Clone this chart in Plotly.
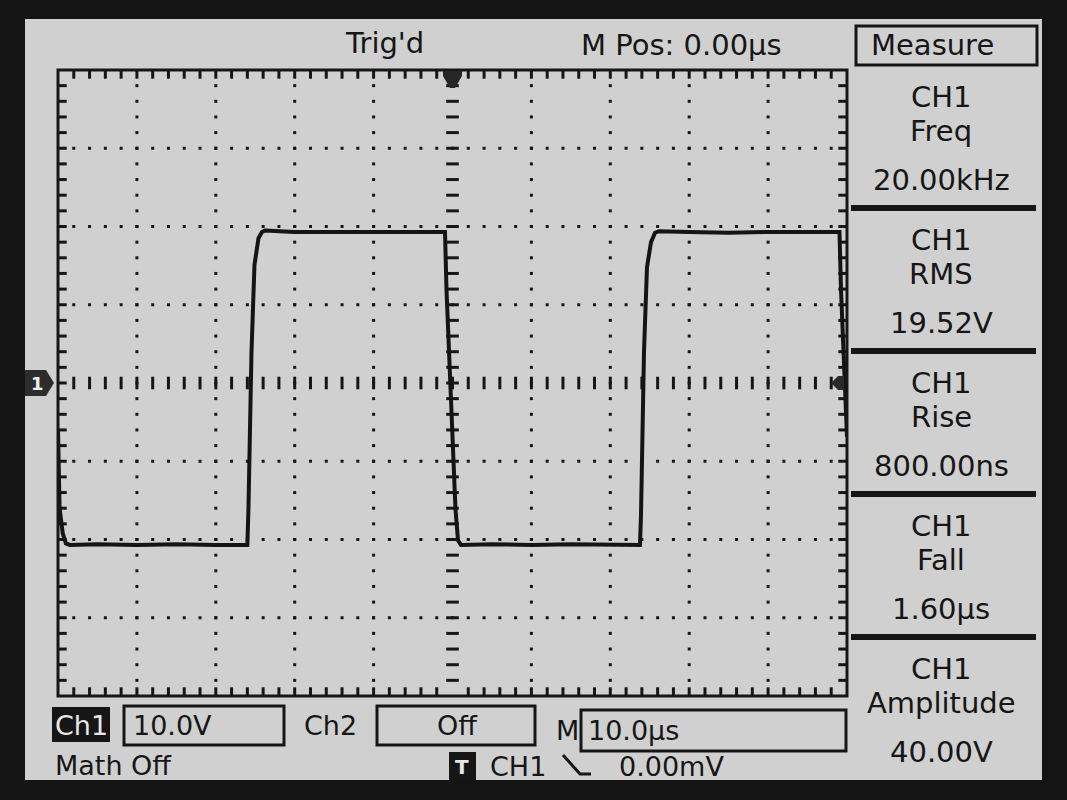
import plotly.graph_objects as go

# ---------------- data ----------------
# CH1 trace: time in microseconds, voltage in volts
time_us = [-50.0, -49.8, -49.4, -49.0, -48.5, -45.0, -40.0, -35.0, -30.0, -26.0,
           -25.86, -25.48, -25.10, -24.59, -24.15, -23.76, -20.0, -15.0, -10.0, -5.0,
           -0.95, -0.76, -0.38, 0.0, 0.38, 0.70, 1.08, 5.0, 10.0, 15.0,
           20.0, 23.76, 23.89, 24.27, 24.65, 25.16, 25.67, 26.17, 30.0, 35.0,
           40.0, 45.0, 49.05, 49.24, 49.62, 50.0]
ch1_volts = [-6.0, -16.0, -19.2, -20.5, -20.7, -20.6, -20.7, -20.6, -20.7, -20.7,
             -16.0, 3.8, 15.1, 18.5, 19.3, 19.5, 19.3, 19.3, 19.2, 19.3,
             19.3, 11.9, 2.0, -6.9, -16.2, -20.1, -20.7, -20.6, -20.7, -20.6,
             -20.7, -20.7, -16.9, 4.0, 14.8, 18.0, 19.2, 19.4, 19.3, 19.2,
             19.3, 19.3, 19.3, 11.9, 2.0, -6.9]

h_divs = 10
v_divs = 8
time_per_div = 10.0      # µs / div
volts_per_div = 10.0     # V / div
minor_per_div = 5

status_text = "Trig'd"
mpos_text = "M Pos: 0.00µs"
menu_title = "Measure"
measure_sources = ["CH1", "CH1", "CH1", "CH1", "CH1"]
measure_names = ["Freq", "RMS", "Rise", "Fall", "Amplitude"]
measure_values = ["20.00kHz", "19.52V", "800.00ns", "1.60µs", "40.00V"]
ch1_label, ch1_scale = "Ch1", "10.0V"
ch2_label, ch2_state = "Ch2", "Off"
time_label, time_scale = "M", "10.0µs"
math_state = "Math Off"
trig_source, trig_level = "CH1", "0.00mV"

# ---------------- geometry ----------------
W, H = 1067, 800
L, R, T, B = 58, 847, 70, 696
INK = "#161616"
SCREEN = "#d0d0d0"
FONT = "DejaVu Sans"


def fx(px):
    return (px - L) / (R - L)


def fy(py):
    return (B - py) / (B - T)


def path(points, close=True):
    s = "M " + " L ".join(f"{fx(x):.5f},{fy(y):.5f}" for x, y in points)
    return s + (" Z" if close else "")


x_half = h_divs * time_per_div / 2
y_half = v_divs * volts_per_div / 2
minor_t = time_per_div / minor_per_div
minor_v = volts_per_div / minor_per_div
n_t = int(round(2 * x_half / minor_t))
n_v = int(round(2 * y_half / minor_v))
t_minor = [-x_half + i * minor_t for i in range(1, n_t)]
v_minor = [-y_half + i * minor_v for i in range(1, n_v)]
t_major = [-x_half + i * time_per_div for i in range(1, h_divs) if abs(-x_half + i * time_per_div) > 1e-9]
v_major = [-y_half + i * volts_per_div for i in range(1, v_divs) if abs(-y_half + i * volts_per_div) > 1e-9]

fig = go.Figure()

# graticule dots
gx, gy = [], []
for xv in t_major:
    for yv in v_minor:
        gx.append(xv); gy.append(yv)
for yv in v_major:
    for xv in t_minor:
        gx.append(xv); gy.append(yv)
fig.add_trace(go.Scatter(x=gx, y=gy, mode="markers", hoverinfo="skip",
                         marker=dict(symbol="square", size=3, color=INK, line=dict(width=0))))

# centre cross dashes
fig.add_trace(go.Scatter(x=[0] * len(v_minor), y=v_minor, mode="markers", hoverinfo="skip",
                         marker=dict(symbol="line-ew", size=9, line=dict(width=3, color=INK))))
fig.add_trace(go.Scatter(x=t_minor, y=[0] * len(t_minor), mode="markers", hoverinfo="skip",
                         marker=dict(symbol="line-ns", size=9, line=dict(width=3, color=INK))))

# border ticks
tick_in_t = 6 * (2 * x_half) / (R - L) / 2 + 3 * (2 * x_half) / (R - L) / 2
tick_in_v = 6 * (2 * y_half) / (B - T) / 2 + 3 * (2 * y_half) / (B - T) / 2
bt = [t for t in t_minor if abs(t) > 1e-9]
fig.add_trace(go.Scatter(x=bt + bt, y=[y_half - tick_in_v] * len(bt) + [-y_half + tick_in_v] * len(bt),
                         mode="markers", hoverinfo="skip",
                         marker=dict(symbol="line-ns", size=6, line=dict(width=3, color=INK))))
fig.add_trace(go.Scatter(x=[-x_half + tick_in_t] * len(v_minor) + [x_half - tick_in_t] * len(v_minor),
                         y=v_minor + v_minor, mode="markers", hoverinfo="skip",
                         marker=dict(symbol="line-ew", size=6, line=dict(width=3, color=INK))))

# waveform
fig.add_trace(go.Scatter(x=time_us, y=ch1_volts, mode="lines", hoverinfo="skip",
                         line=dict(color="#141414", width=4)))

shapes = []
# screen
shapes.append(dict(type="rect", xref="paper", yref="paper", layer="below",
                   x0=fx(25), x1=fx(1042), y0=fy(780), y1=fy(19),
                   fillcolor=SCREEN, line=dict(width=0)))
# graticule frame
shapes.append(dict(type="rect", xref="paper", yref="paper", x0=0, x1=1, y0=0, y1=1,
                   line=dict(color=INK, width=3)))
# markers
shapes.append(dict(type="path", xref="paper", yref="paper",
                   path=path([(25, 370), (46, 370), (54, 383), (46, 396), (25, 396)]),
                   fillcolor="#2c2c2c", line=dict(width=0)))
shapes.append(dict(type="path", xref="paper", yref="paper",
                   path=path([(443, 71), (462, 71), (462, 76), (455, 88), (450, 88), (443, 76)]),
                   fillcolor="#262626", line=dict(width=0)))
shapes.append(dict(type="path", xref="paper", yref="paper",
                   path=path([(831, 383), (838, 376), (844, 376), (844, 390), (838, 390)]),
                   fillcolor="#2a2a2a", line=dict(width=0)))
# measure menu box and separators
shapes.append(dict(type="rect", xref="paper", yref="paper",
                   x0=fx(856), x1=fx(1037), y0=fy(65), y1=fy(26),
                   line=dict(color=INK, width=3)))
for k in range(1, len(measure_names)):
    yc = 208 + (k - 1) * 143
    shapes.append(dict(type="rect", xref="paper", yref="paper",
                       x0=fx(851), x1=fx(1036), y0=fy(yc + 3), y1=fy(yc - 3),
                       fillcolor=INK, line=dict(width=0)))
# bottom status boxes
shapes.append(dict(type="rect", xref="paper", yref="paper",
                   x0=fx(52), x1=fx(110), y0=fy(742), y1=fy(707),
                   fillcolor=INK, line=dict(width=0)))
for (x0, x1, y0, y1) in [(124, 284, 706, 745), (377, 535, 706, 745), (581, 846, 710, 751)]:
    shapes.append(dict(type="rect", xref="paper", yref="paper",
                       x0=fx(x0), x1=fx(x1), y0=fy(y1), y1=fy(y0),
                       line=dict(color=INK, width=3)))
shapes.append(dict(type="rect", xref="paper", yref="paper",
                   x0=fx(449), x1=fx(476), y0=fy(781), y1=fy(752),
                   fillcolor=INK, line=dict(width=0)))
shapes.append(dict(type="path", xref="paper", yref="paper",
                   path=path([(563, 755), (580, 774), (591, 774)], close=False),
                   line=dict(color=INK, width=3)))

ann = []


def txt(s, x, y, size=29, anchor="center", color=INK, bold=False):
    ann.append(dict(text=(f"<b>{s}</b>" if bold else s), x=fx(x), y=fy(y), xref="paper", yref="paper",
                    xanchor=anchor, yanchor="middle", showarrow=False,
                    font=dict(family=FONT, size=size, color=color)))


txt(status_text, 384, 43)
txt(mpos_text, 681, 45)
txt(menu_title, 933, 45)
for k in range(len(measure_names)):
    y0 = 97 + k * 143
    txt(measure_sources[k], 941, y0)
    txt(measure_names[k], 941, y0 + 34)
    txt(measure_values[k], 941, y0 + 83)
txt(ch1_label, 81, 725, size=27, color="#e8e8e8")
txt(ch1_scale, 131, 725, size=27, anchor="left")
txt(ch2_label, 330, 725, size=27)
txt(ch2_state, 457, 725, size=27)
txt(time_label, 567, 730, size=27)
txt(time_scale, 586, 730, size=27, anchor="left")
txt(math_state, 53, 765, size=27, anchor="left")
txt("T", 462, 767, size=20, color="#e8e8e8", bold=True)
txt(trig_source, 488, 766, size=27, anchor="left")
txt(trig_level, 617, 766, size=27, anchor="left")
txt("1", 37, 383, size=18, color="#eeeeee", bold=True)

fig.update_layout(
    width=W, height=H,
    margin=dict(l=L, r=W - R, t=T, b=H - B, pad=0),
    paper_bgcolor="#141414", plot_bgcolor=SCREEN,
    showlegend=False,
    xaxis=dict(range=[-x_half, x_half], showgrid=False, zeroline=False, showticklabels=False,
               ticks="", showline=False, fixedrange=True),
    yaxis=dict(range=[-y_half, y_half], showgrid=False, zeroline=False, showticklabels=False,
               ticks="", showline=False, fixedrange=True),
    shapes=shapes, annotations=ann,
)

fig.write_html("out.html", config={"displayModeBar": False},
               post_script="document.body.style.margin='0px';document.body.style.overflow='hidden';")
